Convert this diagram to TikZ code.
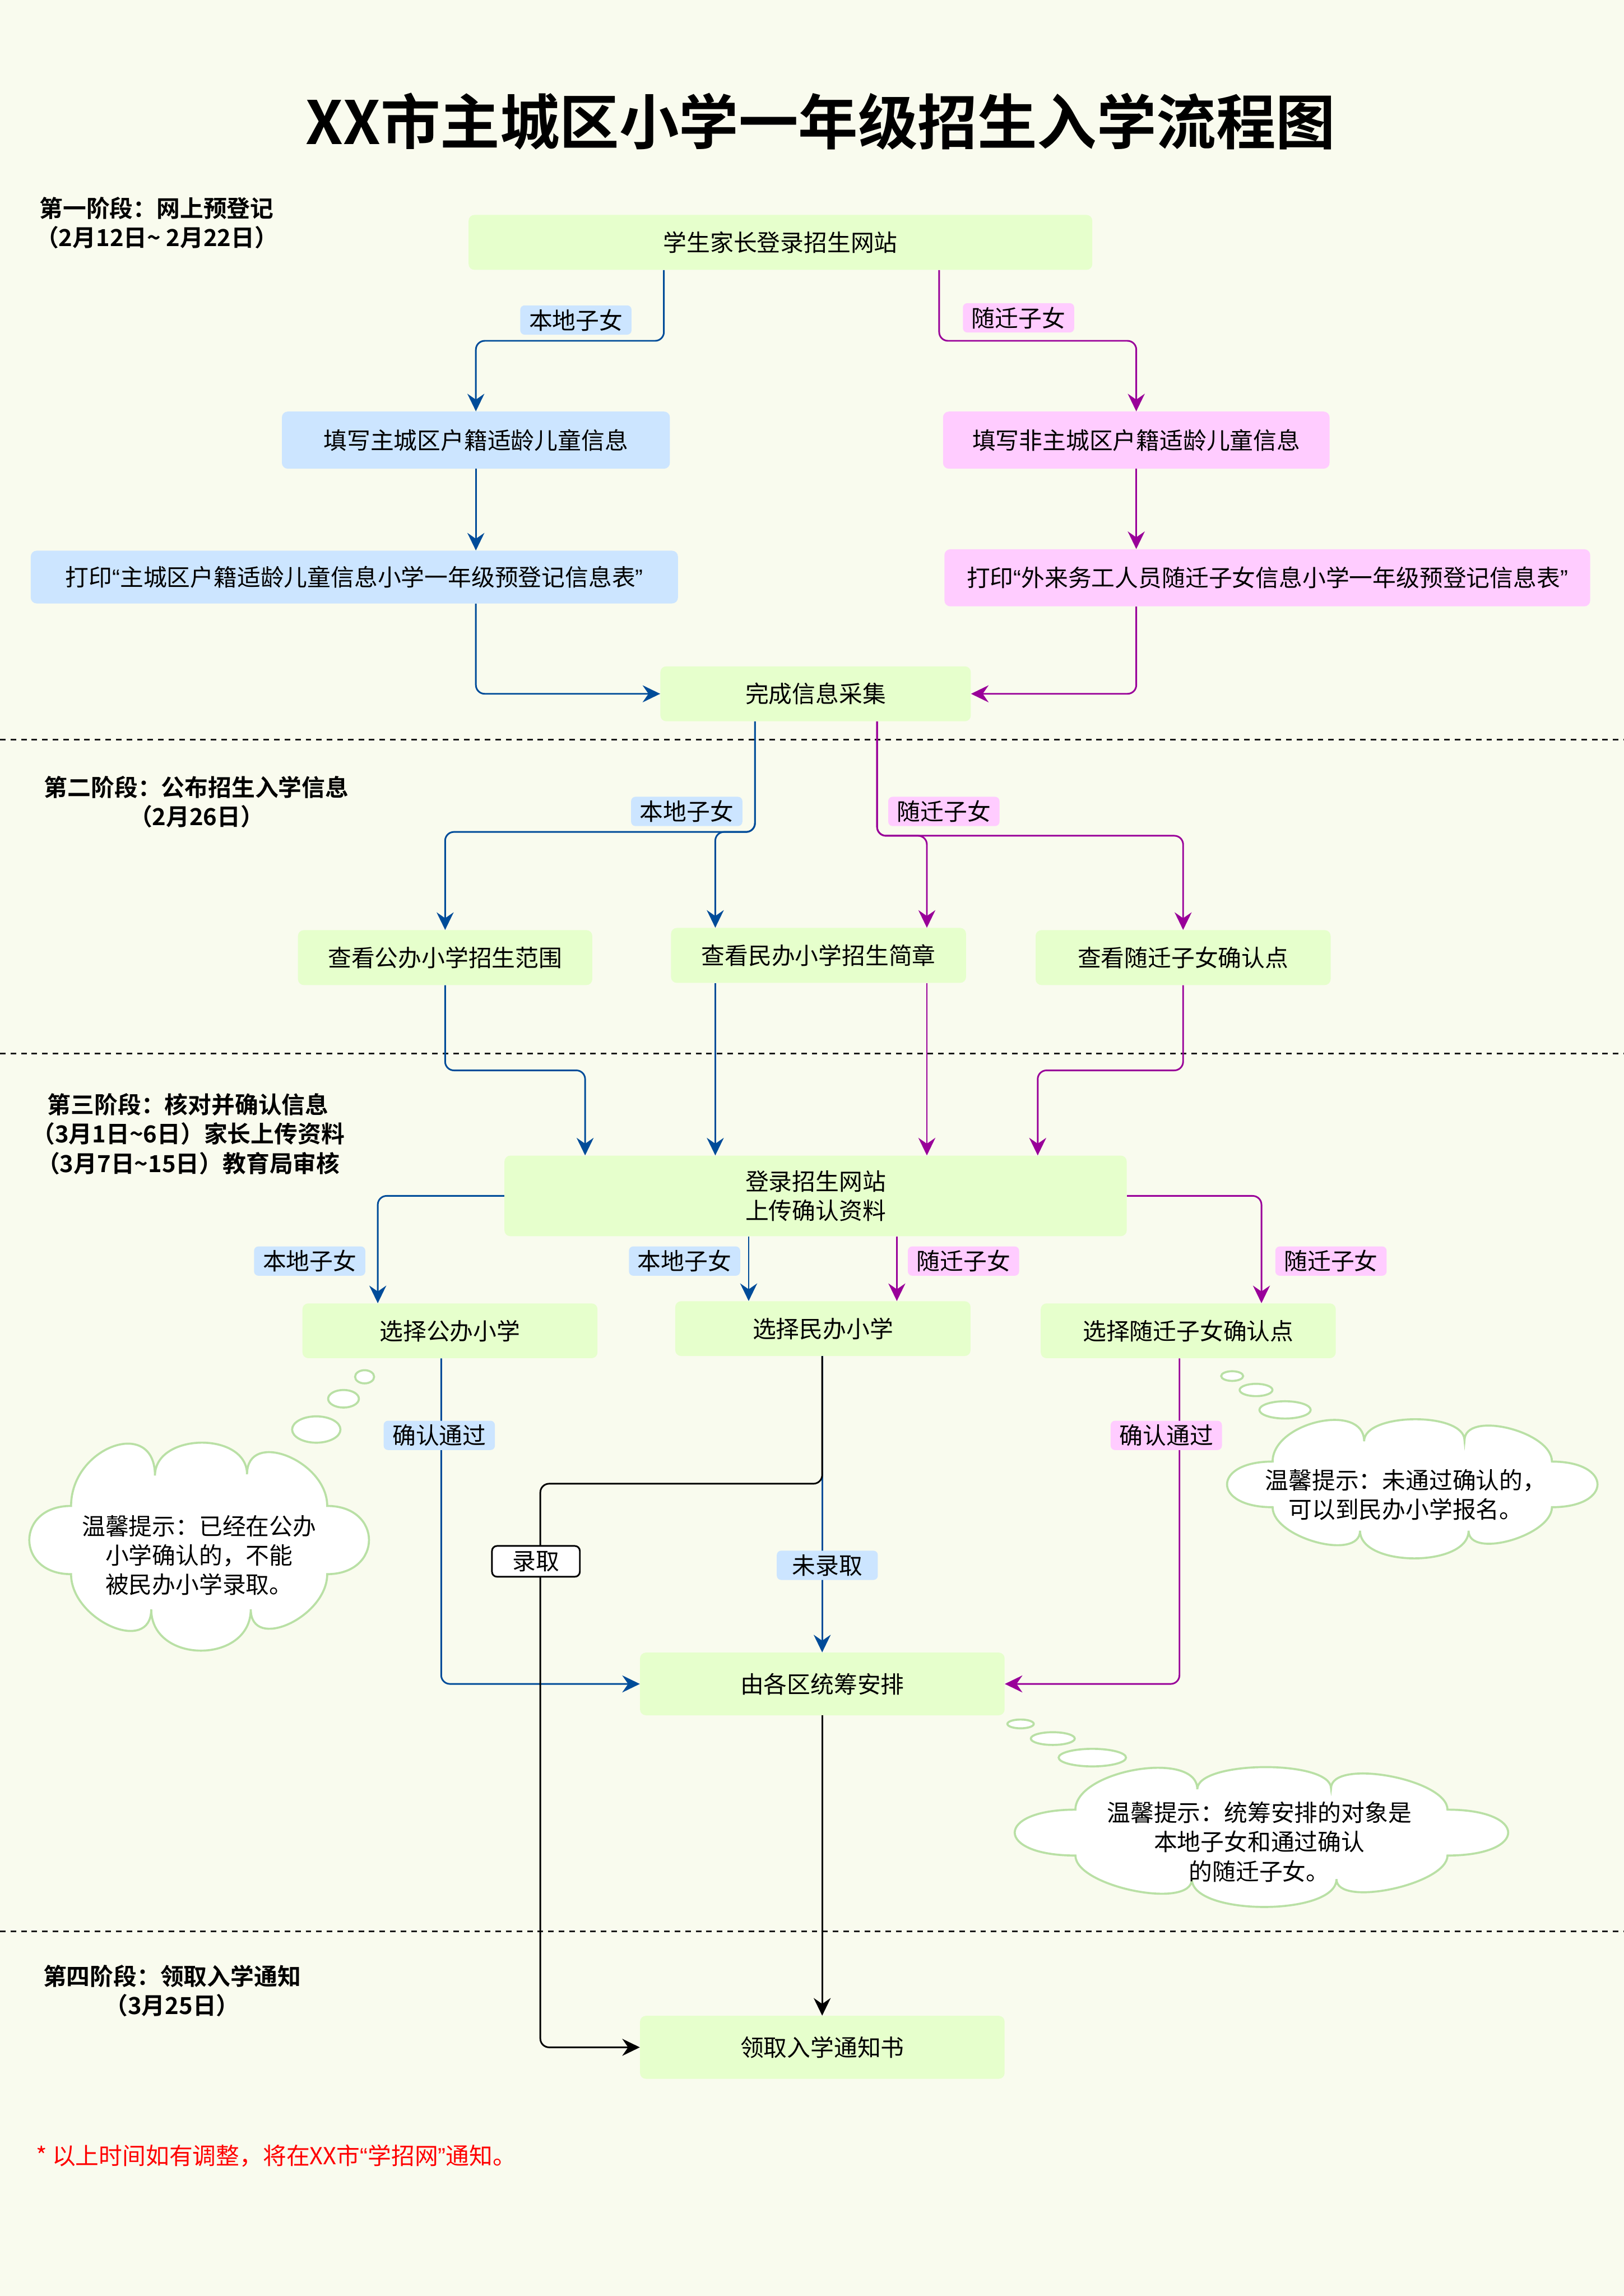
\documentclass[tikz,border=0pt]{standalone}
\usepackage{fontspec}
\setmainfont{Noto Sans CJK SC}[BoldFont={Noto Sans CJK SC Bold}]
\newfontfamily\latf{Liberation Sans}
\usetikzlibrary{shapes.geometric,arrows.meta}
\definecolor{bgc}{HTML}{F9FBEE}
\definecolor{gfill}{HTML}{E6FFCC}
\definecolor{bfill}{HTML}{CCE5FF}
\definecolor{pfill}{HTML}{FFCCFF}
\definecolor{bline}{HTML}{004C99}
\definecolor{pline}{HTML}{990099}
\definecolor{cloudc}{HTML}{B9E0A5}
\newcommand\fsn{\fontsize{22.76pt}{28.45pt}\selectfont}
\newcommand\fst{\fontsize{58pt}{64pt}\selectfont}
\newcommand\qL{{\latf “}}
\newcommand\qR{{\latf ”}}
\begin{document}
\begin{tikzpicture}[x=0.05cm,y=-0.05cm,
  box/.style={rounded corners=0.2cm, inner sep=0pt, align=center, font=\fsn},
  gbox/.style={box, fill=gfill},
  bbox/.style={box, fill=bfill},
  pbox/.style={box, fill=pfill},
  lab/.style={rounded corners=0.15cm, inner sep=0pt, minimum width=3.8cm, minimum height=1cm, font=\fsn},
  blab/.style={lab, fill=bfill},
  plab/.style={lab, fill=pfill},
  phase/.style={align=center, font=\fsn\bfseries, inner sep=0pt},
  tip/.style={-{Stealth[length=0.6cm,width=0.58cm,inset=0.2cm]}},
  conn/.style={line width=1.6pt, rounded corners=0.3cm, tip},
  bl/.style={conn, draw=bline},
  pl/.style={conn, draw=pline},
  kl/.style={conn, draw=black},
  sep/.style={draw=black!90, line width=1.6pt, dash pattern=on 0.19cm off 0.17cm},
  cloudsty/.style={draw=cloudc, fill=white, line width=2pt, line join=miter},
  bub/.style={ellipse, draw=cloudc, fill=white, line width=2pt, inner sep=0pt},
  ctext/.style={align=center, font=\fsn, inner sep=0pt}
]
\useasboundingbox (0,0) rectangle (1109,1567.6);
\fill[bgc] (0,0) rectangle (1109,1567.6);

% lanes
\coordinate (cA) at (453.4,0);
\coordinate (cB) at (641.4,0);
\coordinate (cC) at (325,0);
\coordinate (cD) at (776,0);
\coordinate (cF) at (515.6,0);
\coordinate (cG) at (599,0);
\coordinate (cI) at (488.5,0);
\coordinate (cJ) at (633,0);
\coordinate (cL) at (399.6,0);
\coordinate (cM) at (708.7,0);
\coordinate (cN) at (258,0);
\coordinate (cO) at (511.3,0);
\coordinate (cP) at (612.5,0);
\coordinate (cQ) at (861.5,0);
\coordinate (cR) at (301.3,0);
\coordinate (cS) at (805.5,0);
\coordinate (cT) at (561.5,0);

% title
\node[font={\fst\bfseries}, inner sep=0pt] (title) at (560.5,83) {XX市主城区小学一年级招生入学流程图};

% separators
\draw[sep] (0,505) -- (1109,505);
\draw[sep] (0,719.2) -- (1109,719.2);
\draw[sep] (0,1318.6) -- (1109,1318.6);

% phase labels
\node[phase] (ph1) at (107,152.3) {第一阶段：网上预登记\\（2月12日\textasciitilde\ 2月22日）};
\node[phase] (ph2) at (134.2,547.5) {第二阶段：公布招生入学信息\\（2月26日）};
\node[phase] (ph3) at (128.5,774.2) {第三阶段：核对并确认信息\\（3月1日\textasciitilde 6日）家长上传资料\\（3月7日\textasciitilde 15日）教育局审核};
\node[phase] (ph4) at (117.5,1359.3) {第四阶段：领取入学通知\\（3月25日）};

% nodes
\node[gbox, minimum width=21.3cm, minimum height=1.875cm] (n1) at (533,165.5) {学生家长登录招生网站};
\node[bbox, minimum width=13.25cm, minimum height=1.95cm] (n2) at (325,300.5) {填写主城区户籍适龄儿童信息};
\node[pbox, minimum width=13.2cm, minimum height=1.95cm] (n3) at (776,300.5) {填写非主城区户籍适龄儿童信息};
\node[bbox, minimum width=22.1cm, minimum height=1.8cm] (n4) at (242,394) {打印\qL 主城区户籍适龄儿童信息小学一年级预登记信息表\qR};
\node[pbox, minimum width=22.05cm, minimum height=1.95cm] (n5) at (865.5,394.5) {打印\qL 外来务工人员随迁子女信息小学一年级预登记信息表\qR};
\node[gbox, minimum width=10.6cm, minimum height=1.875cm] (n6) at (557,473.7) {完成信息采集};
\node[gbox, minimum width=10.05cm, minimum height=1.875cm] (n7) at (304,653.8) {查看公办小学招生范围};
\node[gbox, minimum width=10.075cm, minimum height=1.875cm] (n8) at (559,652.3) {查看民办小学招生简章};
\node[gbox, minimum width=10.075cm, minimum height=1.875cm] (n9) at (808,653.8) {查看随迁子女确认点};
\node[gbox, minimum width=21.25cm, minimum height=2.75cm] (n10) at (557,816.5) {登录招生网站\\上传确认资料};
\node[gbox, minimum width=10.075cm, minimum height=1.87cm] (n11) at (307.3,908.6) {选择公办小学};
\node[gbox, minimum width=10.085cm, minimum height=1.87cm] (n12) at (562,907.1) {选择民办小学};
\node[gbox, minimum width=10.075cm, minimum height=1.87cm] (n13) at (811.5,908.6) {选择随迁子女确认点};
\node[gbox, minimum width=12.45cm, minimum height=2.14cm] (n14) at (561.6,1149.7) {由各区统筹安排};
\node[gbox, minimum width=12.45cm, minimum height=2.15cm] (n15) at (561.6,1397.8) {领取入学通知书};

% connectors
\draw[bl] (n1.south -| cA) -- (453.4,232.7) -- (325,232.7) -- (n2.north -| cC);
\draw[pl] (n1.south -| cB) -- (641.4,232.7) -- (776,232.7) -- (n3.north -| cD);
\draw[bl] (n2.south -| cC) -- (n4.north -| cC);
\draw[pl] (n3.south -| cD) -- (n5.north -| cD);
\draw[bl] (n4.south -| cC) |- (n6.west);
\draw[pl] (n5.south -| cD) |- (n6.east);
\draw[bl] (n6.south -| cF) -- (515.6,568) -- (304,568) -- (n7.north);
\draw[bl] (n6.south -| cF) -- (515.6,568) -- (488.5,568) -- (n8.north -| cI);
\draw[pl] (n6.south -| cG) -- (599,570.6) -- (633,570.6) -- (n8.north -| cJ);
\draw[pl] (n6.south -| cG) -- (599,570.6) -- (808,570.6) -- (n9.north);
\draw[bl] (n7.south) -- (304,730.8) -- (399.6,730.8) -- (n10.north -| cL);
\draw[bl] (n8.south -| cI) -- (n10.north -| cI);
\draw[pl] (n8.south -| cJ) -- (n10.north -| cJ);
\draw[pl] (n9.south) -- (808,730.8) -- (708.7,730.8) -- (n10.north -| cM);
\draw[bl] (n10.west) -| (n11.north -| cN);
\draw[bl] (n10.south -| cO) -- (n12.north -| cO);
\draw[pl] (n10.south -| cP) -- (n12.north -| cP);
\draw[pl] (n10.east) -| (n13.north -| cQ);
\draw[bl] (n11.south -| cR) |- (n14.west);
\draw[pl] (n13.south -| cS) |- (n14.east);
\draw[bl] (n12.south -| cT) -- (n14.north -| cT);
\draw[kl] (n12.south -| cT) -- (561.5,1013) -- (369,1013) |- (n15.west);
\draw[kl] (n14.south -| cT) -- (n15.north -| cT);

% connector labels
\node[blab] (l1) at (393.3,218.5) {本地子女};
\node[plab] (l2) at (695.6,217) {随迁子女};
\node[blab] (l3) at (469,554) {本地子女};
\node[plab] (l4) at (644.6,554) {随迁子女};
\node[blab] (l5) at (211.5,861) {本地子女};
\node[blab] (l6) at (467.5,861) {本地子女};
\node[plab] (l7) at (658,861) {随迁子女};
\node[plab] (l8) at (909,861) {随迁子女};
\node[blab] (l9) at (300,980) {确认通过};
\node[plab] (l10) at (796.5,980) {确认通过};
\node[blab, minimum width=3.45cm] (l11) at (565,1068.7) {未录取};
\node[lab, fill=white, draw=black, line width=1.6pt, minimum width=3cm, minimum height=1.05cm, rounded corners=0.17cm] (l12) at (366,1066) {录取};

% thought bubbles
\node[bub, minimum width=0.65cm, minimum height=0.45cm] (b1a) at (249,940) {};
\node[bub, minimum width=1.05cm, minimum height=0.6cm] (b1b) at (234.6,955) {};
\node[bub, minimum width=1.65cm, minimum height=0.9cm] (b1c) at (216,976) {};
\node[bub, minimum width=0.75cm, minimum height=0.33cm] (b2a) at (841.5,939.5) {};
\node[bub, minimum width=1.12cm, minimum height=0.42cm] (b2b) at (857.8,949) {};
\node[bub, minimum width=1.75cm, minimum height=0.59cm] (b2c) at (877.6,962.6) {};
\node[bub, minimum width=0.9cm, minimum height=0.3cm] (b3a) at (697,1177) {};
\node[bub, minimum width=1.5cm, minimum height=0.435cm] (b3b) at (719,1187) {};
\node[bub, minimum width=2.3cm, minimum height=0.6cm] (b3c) at (746,1200) {};

% clouds (drawn shapes)
\foreach \cx/\cy/\cw/\ch in {20/985/232/142, 838/969/253/95, 693/1206.5/337/95.5}{
  \draw[cloudsty, shift={(\cx,\cy)}, xscale=\cw, yscale=\ch]
    (0.123,0.304) .. controls (0.123,0.02) and (0.370,-0.126) .. (0.370,0.158)
    .. controls (0.370,-0.049) and (0.641,-0.055) .. (0.641,0.152)
    .. controls (0.641,-0.067) and (0.877,0.085) .. (0.877,0.304)
    .. controls (1.041,0.304) and (1.041,0.632) .. (0.877,0.632)
    .. controls (0.877,0.838) and (0.652,1.007) .. (0.652,0.801)
    .. controls (0.652,1.066) and (0.359,1.066) .. (0.359,0.801)
    .. controls (0.359,1.023) and (0.123,0.854) .. (0.123,0.632)
    .. controls (-0.041,0.632) and (-0.041,0.304) .. (0.123,0.304) -- cycle;
}
\node[ctext] (t1) at (136,1062) {温馨提示：已经在公办\\小学确认的，不能\\被民办小学录取。};
\node[ctext] (t2) at (960,1020.5) {温馨提示：未通过确认的，\\可以到民办小学报名。};
\node[ctext] (t3) at (860,1257.5) {温馨提示：统筹安排的对象是\\本地子女和通过确认\\的随迁子女。};

% footnote
\node[anchor=west, inner sep=0pt, font=\fsn, text=red] (foot) at (24.4,1472) {* 以上时间如有调整，将在XX市\qL 学招网\qR 通知。};
\end{tikzpicture}
\end{document}
